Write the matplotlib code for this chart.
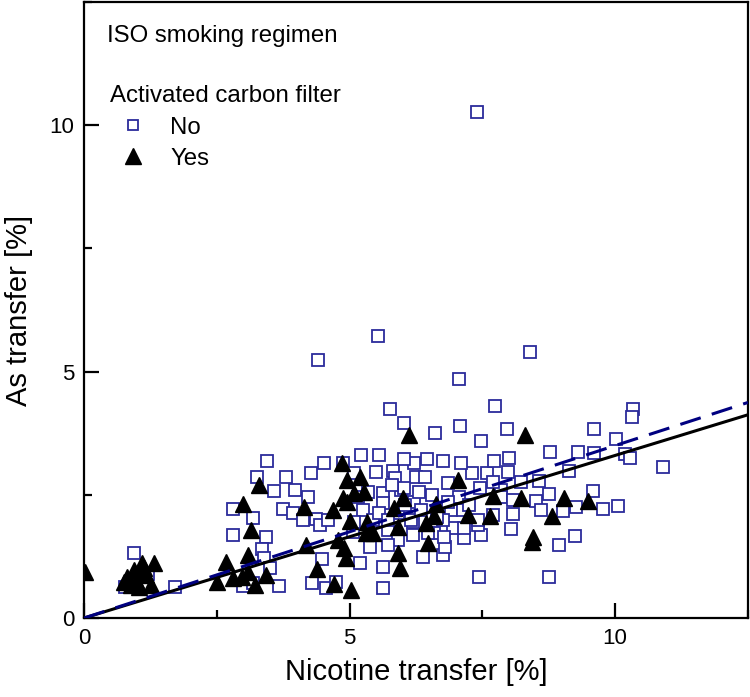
import matplotlib
matplotlib.use("Agg")
import matplotlib.pyplot as plt
from matplotlib.ticker import MultipleLocator

plt.rcParams['font.family'] = ['Liberation Sans', 'DejaVu Sans']

# Activated carbon filter: No (open squares)
no_x = [7.40, 5.53, 4.40, 8.40, 7.06, 7.74, 10.34, 10.32, 7.08, 7.96, 9.60, 6.60, 7.47, 10.02,
        8.77, 9.30, 9.60, 10.19, 10.28, 10.90, 9.13, 8.57, 8.23, 9.58, 8.75, 8.51, 9.77, 10.06,
        9.26, 9.02, 8.60, 8.08, 8.04, 9.25, 8.94, 8.75, 7.43, 6.75, 6.38, 7.15, 7.47, 6.79,
        6.19, 6.94, 7.15, 7.42, 7.70, 7.85, 7.85, 7.45, 7.30, 7.58, 7.98, 7.09, 7.72, 8.00,
        6.75, 6.45, 6.21, 6.25, 6.42, 6.85, 7.06, 6.91, 7.13, 6.21, 6.19, 6.58, 6.02, 5.77,
        3.45, 3.25, 3.57, 3.81, 3.98, 4.21, 4.28, 4.51, 4.87, 5.21, 5.55, 5.49, 5.81, 6.02,
        5.96, 5.62, 2.81, 3.75, 3.94, 4.13, 4.36, 4.45, 4.60, 3.19, 2.81, 3.43, 3.36, 3.38,
        3.51, 3.68, 3.00, 3.19, 1.72, 0.94, 0.77, 4.49, 4.30, 4.55, 4.75, 5.19, 5.62, 5.62,
        5.38, 5.06, 5.25, 5.62, 5.72, 5.92, 5.72, 5.91, 6.15, 6.34, 6.47, 5.45, 5.08,
        5.85, 5.08, 6.02, 5.55, 5.72, 6.75, 6.77, 7.70, 8.08, 7.42, 1.20,
        6.55, 6.30, 6.65, 7.25, 6.85, 5.35, 5.80, 5.15, 6.05]
no_y = [10.26, 5.72, 5.23, 5.40, 4.85, 4.30, 4.24, 4.08, 3.89, 3.83, 3.83, 3.75, 3.59, 3.63,
        3.37, 3.37, 3.35, 3.33, 3.25, 3.06, 2.98, 2.78, 2.76, 2.58, 2.52, 2.37, 2.21, 2.27,
        2.25, 2.17, 2.19, 2.11, 1.80, 1.66, 1.48, 0.83, 0.83, 1.28, 1.24, 1.62, 1.68, 1.44,
        1.68, 1.83, 1.83, 1.89, 2.09, 2.60, 2.45, 2.64, 2.94, 2.94, 2.96, 3.14, 3.18, 3.25,
        3.18, 3.22, 3.14, 2.86, 2.86, 2.74, 2.45, 2.19, 2.19, 2.35, 1.95, 1.72, 3.96, 4.24,
        3.18, 2.86, 2.58, 2.86, 2.60, 2.45, 2.94, 3.14, 3.14, 3.31, 3.31, 2.96, 2.98, 3.22,
        2.60, 2.54, 2.21, 2.21, 2.13, 1.99, 2.01, 1.89, 1.99, 2.03, 1.68, 1.64, 1.40, 1.22,
        1.01, 0.65, 0.65, 0.71, 0.63, 1.32, 0.63, 1.20, 0.71, 0.61, 0.73, 1.12, 1.03, 0.61,
        1.44, 1.74, 2.19, 2.33, 1.78, 1.58, 1.48, 2.13, 1.99, 2.19, 1.72, 1.99, 1.95,
        2.84, 2.94, 2.64, 2.13, 1.99, 1.99, 1.64, 2.76, 2.39, 1.99, 0.90,
        2.50, 2.55, 2.05, 2.30, 2.35, 2.55, 2.70, 2.45, 2.30]

# Activated carbon filter: Yes (filled triangles)
yes_x = [0.02, 0.81, 0.94, 1.09, 1.32, 0.89, 1.04, 1.17, 1.26, 0.75, 0.98, 1.13,
         2.51, 2.68, 2.81, 2.98, 3.09, 3.09, 3.21, 3.43, 3.15, 3.00, 3.30, 4.17, 4.15,
         4.38, 4.70, 5.02, 4.85, 4.96, 5.19, 5.08, 5.28, 4.87, 4.96, 4.68, 5.00, 5.32,
         5.30, 5.45, 4.79, 4.89, 4.94, 6.11, 6.00, 5.83, 5.92, 5.92, 5.94, 6.47, 6.43,
         6.62, 7.04, 7.23, 6.58, 8.30, 7.70, 8.23, 9.04, 9.49, 8.81, 7.64, 8.45, 8.43]
yes_y = [0.93, 0.83, 0.97, 1.12, 1.12, 0.67, 0.63, 0.87, 0.67, 0.73, 0.77, 1.01,
         0.73, 1.14, 0.81, 0.83, 0.93, 1.28, 0.67, 0.87, 1.78, 2.31, 2.70, 1.48, 2.25,
         0.99, 0.69, 0.57, 3.14, 2.80, 2.86, 2.54, 2.56, 2.43, 2.35, 2.19, 1.97, 1.95,
         1.72, 1.72, 1.58, 1.42, 1.22, 3.71, 2.43, 2.23, 1.85, 1.32, 1.01, 1.52, 1.93,
         2.31, 2.80, 2.09, 2.07, 3.71, 2.47, 2.43, 2.43, 2.37, 2.07, 2.07, 1.64, 1.54]

# Regression lines through origin (slopes)
slope_yes = 0.33
slope_no = 0.35
x_range = [0.0, 12.5]

fig = plt.figure(figsize=(7.5, 6.97), dpi=100)
ax = fig.add_axes([0.112, 0.1133, 0.8853, 0.8837])

sq_color = '#2b2b9b'
ax.plot(no_x, no_y, linestyle='none', marker='s', markersize=8.5, markerfacecolor='white',
        markeredgecolor=sq_color, markeredgewidth=1.3, label='No', zorder=3, clip_on=False)
ax.plot(yes_x, yes_y, linestyle='none', marker='^', markersize=11.5, color='black',
        label='Yes', zorder=4)

ax.plot(x_range, [slope_yes * v for v in x_range], color='black', lw=2.2, zorder=5)
ax.plot(x_range, [slope_no * v for v in x_range], color='#000080', lw=2.2,
        linestyle=(0, (7, 3.8)), zorder=5)

ax.set_xlim(0, 12.5)
ax.set_ylim(0, 12.5)
ax.xaxis.set_major_locator(MultipleLocator(5))
ax.xaxis.set_minor_locator(MultipleLocator(2.5))
ax.yaxis.set_major_locator(MultipleLocator(5))
ax.yaxis.set_minor_locator(MultipleLocator(2.5))
ax.tick_params(which='both', direction='in', width=1.6, top=False, right=False,
               labelsize=16, pad=7)
ax.tick_params(which='major', length=11)
ax.tick_params(which='minor', length=6)
for s in ax.spines.values():
    s.set_linewidth(1.6)

ax.set_xlabel('Nicotine transfer [%]', fontsize=21, labelpad=7)
ax.set_ylabel('As transfer [%]', fontsize=21, labelpad=12)

ax.text(0.035, 0.945, 'ISO smoking regimen', transform=ax.transAxes, fontsize=17.3,
        va='center', ha='left')
leg = ax.legend(title='Activated carbon filter', loc='upper left',
                bbox_to_anchor=(0.014, 0.893), frameon=False, fontsize=17.3,
                title_fontsize=17.3, alignment='left', handletextpad=0.6,
                labelspacing=0.38, borderpad=0.2, handlelength=1.9)
leg.legend_handles[0].set_markersize(7.5)
leg._legend_box.sep = 7

fig.savefig('out.png', dpi=100)
